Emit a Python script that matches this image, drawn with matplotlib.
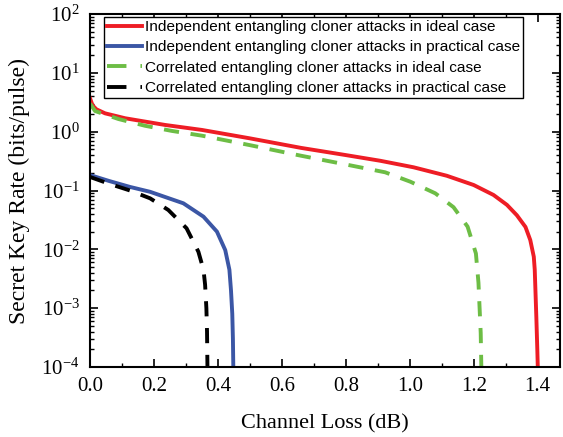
import matplotlib
matplotlib.use("Agg")
import matplotlib.pyplot as plt
from matplotlib.lines import Line2D
from matplotlib.ticker import LogLocator, MultipleLocator, NullFormatter

plt.rcParams['font.family'] = ['Liberation Serif', 'DejaVu Serif']
plt.rcParams['mathtext.fontset'] = 'stix'

# values
loss_ind_ideal = [0.0, 0.008, 0.02, 0.047, 0.11, 0.235, 0.35, 0.5, 0.66, 0.8, 0.908,
                  1.012, 1.116, 1.2, 1.262, 1.304, 1.335, 1.362, 1.377, 1.388, 1.391,
                  1.396, 1.399, 1.402]
rate_ind_ideal = [3.7, 2.8, 2.4, 2.05, 1.69, 1.30, 1.07, 0.77, 0.53, 0.40, 0.32,
                  0.248, 0.178, 0.124, 0.084, 0.057, 0.038, 0.024, 0.0144, 0.0075, 0.0045,
                  7e-4, 2e-4, 5e-5]

loss_ind_prac = [0.0, 0.06, 0.125, 0.188, 0.292, 0.355, 0.397, 0.423, 0.436, 0.441,
                 0.445, 0.447, 0.449]
rate_ind_prac = [0.183, 0.145, 0.115, 0.095, 0.0606, 0.0359, 0.02, 0.0097, 0.0045, 0.002,
                 8e-4, 3e-4, 5e-5]

loss_cor_ideal = [0.0, 0.016, 0.089, 0.172, 0.256, 0.35, 0.5, 0.66, 0.8, 0.923, 1.002,
                  1.08, 1.137, 1.181, 1.207, 1.215, 1.222, 1.225]
rate_cor_ideal = [3.0, 2.24, 1.64, 1.26, 1.03, 0.855, 0.59, 0.39, 0.277, 0.204, 0.141,
                  0.0895, 0.052, 0.0243, 0.0085, 0.0027, 3.8e-4, 5e-5]

loss_cor_prac = [0.0, 0.06, 0.125, 0.188, 0.245, 0.302, 0.339, 0.355, 0.36, 0.364,
                 0.366, 0.368]
rate_cor_prac = [0.17, 0.13, 0.10, 0.0736, 0.0466, 0.0228, 0.0091, 0.0045, 0.0025, 0.001,
                 4e-4, 5e-5]

labels = ["Independent entangling cloner attacks in ideal case",
          "Independent entangling cloner attacks in practical case",
          "Correlated entangling cloner attacks in ideal case",
          "Correlated entangling cloner attacks in practical case"]

red = '#ee1d25'
blue = '#3b56a5'
green = '#6dbd45'
black = '#000000'

fig = plt.figure(figsize=(5.63, 4.37), dpi=100)
ax = fig.add_axes([90 / 563, 70 / 437, 470 / 563, 353 / 437])

lw = 2.8
dash = (3.9, 3.0)
ax.plot(loss_ind_ideal, rate_ind_ideal, color=red, lw=lw)
ax.plot(loss_ind_prac, rate_ind_prac, color=blue, lw=lw)
ax.plot(loss_cor_ideal, rate_cor_ideal, color=green, lw=lw, dashes=dash)
ax.plot(loss_cor_prac, rate_cor_prac, color=black, lw=lw, dashes=dash)

ax.set_yscale('log')
ax.set_xlim(0, 1.47)
ax.set_ylim(1e-4, 1e2)
ax.xaxis.set_major_locator(MultipleLocator(0.2))
ax.xaxis.set_minor_locator(MultipleLocator(0.1))
ax.xaxis.set_major_formatter(plt.FuncFormatter(lambda v, p: f"{v:.1f}"))
ax.yaxis.set_major_locator(LogLocator(base=10, numticks=10))
ax.yaxis.set_minor_locator(LogLocator(base=10, subs=range(2, 10), numticks=20))
ax.yaxis.set_minor_formatter(NullFormatter())

ax.tick_params(which='both', direction='in', top=True, right=True, labelsize=15)
ax.tick_params(which='major', length=6, width=1.2)
ax.tick_params(which='minor', length=3, width=1.0)
ax.tick_params(axis='x', which='major', pad=7.5)
ax.tick_params(axis='y', which='major', pad=7.5)
for s in ax.spines.values():
    s.set_linewidth(1.5)

ax.set_xlabel("Channel Loss (dB)", fontsize=16, labelpad=13)
ax.set_ylabel("Secret Key Rate (bits/pulse)", fontsize=17, labelpad=8)

handles = [
    Line2D([], [], color=red, lw=lw),
    Line2D([], [], color=blue, lw=lw),
    Line2D([], [], color=green, lw=lw, dashes=(5.0, 3.6, 0.6, 20)),
    Line2D([], [], color=black, lw=lw, dashes=(5.0, 3.6, 0.6, 20)),
]
leg = ax.legend(handles, labels, loc='upper left', bbox_to_anchor=(0.03, 0.992),
                borderaxespad=0, fancybox=False, framealpha=1, edgecolor='black',
                prop={'family': ['Liberation Sans', 'DejaVu Sans'], 'size': 11.1},
                handlelength=2.27, handletextpad=0.2, labelspacing=0.42, borderpad=0.2)
leg.get_frame().set_linewidth(1.0)

fig.savefig("out.png", dpi=100)
